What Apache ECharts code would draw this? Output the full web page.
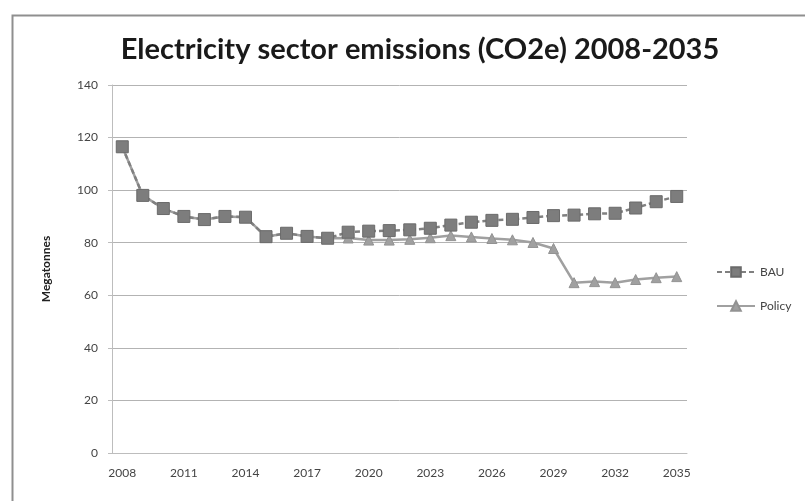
<!DOCTYPE html>
<html>
<head>
<meta charset="utf-8">
<script src="https://cdn.jsdelivr.net/npm/echarts@6/dist/echarts.min.js"></script>
<style>
  html, body { margin: 0; padding: 0; background: #ffffff; }
  #chart { width: 805px; height: 501px; }
</style>
</head>
<body>
<div id="chart"></div>
<script>
// Years on the category axis
const years = [];
for (let y = 2008; y <= 2035; y++) years.push(String(y));

// Business-as-usual emissions, megatonnes CO2e
const bau = [116.5, 98, 93, 90, 88.8, 90, 89.7, 82.3, 83.6, 82.4, 81.7,
             84, 84.4, 84.6, 84.9, 85.5, 86.7, 87.8, 88.5, 88.9, 89.6,
             90.3, 90.5, 91, 91.2, 93.2, 95.6, 97.6];

// Policy scenario emissions, megatonnes CO2e
const policy = [116.5, 98, 93, 90, 88.8, 90, 89.7, 82.3, 83.6, 82.4, 81.7,
                81.8, 81, 81, 81.3, 81.9, 82.7, 82.2, 81.6, 81.1, 80.1,
                77.8, 64.8, 65.2, 64.8, 66, 66.7, 67.1];

const yTicks = [0, 20, 40, 60, 80, 100, 120, 140];

const chart = echarts.init(document.getElementById('chart'));

chart.setOption({
  backgroundColor: '#ffffff',
  animation: false,
  textStyle: { fontFamily: 'Lato, "Open Sans", sans-serif' },
  title: {
    text: 'Electricity sector emissions (CO2e) 2008-2035',
    left: 415,
    textAlign: 'center',
    top: 30,
    textStyle: {
      fontFamily: 'Lato, "Open Sans", sans-serif',
      fontSize: 29,
      fontWeight: 'bold',
      color: '#1a1a1a'
    }
  },
  graphic: [{
    type: 'rect',
    left: 10,
    top: 13,
    shape: { width: 820, height: 520 },
    style: { fill: 'none', stroke: '#8f8f8f', lineWidth: 2 },
    silent: true,
    z: -1
  }],
  legend: {
    orient: 'vertical',
    left: 711,
    top: 261,
    itemGap: 22,
    itemWidth: 38,
    itemHeight: 12,
    textStyle: { fontSize: 12, color: '#444', fontFamily: 'Lato, sans-serif' },
    data: ['BAU', 'Policy']
  },
  grid: { left: 112, right: 118, top: 85, bottom: 48 },
  xAxis: {
    type: 'category',
    data: years,
    boundaryGap: true,
    axisLine: { lineStyle: { color: '#bdbdbd', width: 1 } },
    axisTick: { show: false },
    axisLabel: {
      interval: 2,
      fontSize: 12,
      color: '#444',
      margin: 14
    }
  },
  yAxis: {
    type: 'value',
    min: yTicks[0],
    max: yTicks[yTicks.length - 1],
    interval: 20,
    name: 'Megatonnes',
    nameLocation: 'middle',
    nameGap: 60,
    nameRotate: 90,
    nameTextStyle: { fontSize: 12, fontWeight: 'bold', color: '#222' },
    axisLine: { show: true, lineStyle: { color: '#bdbdbd' } },
    axisTick: { show: true, length: 4, lineStyle: { color: '#bdbdbd' } },
    axisLabel: { fontSize: 12, color: '#444', margin: 14 },
    splitLine: { lineStyle: { color: '#b3b3b3', width: 1 } }
  },
  series: [
    {
      name: 'Policy',
      type: 'line',
      data: policy,
      symbol: 'triangle',
      symbolSize: 10,
      z: 2,
      itemStyle: { color: '#a0a0a0', borderColor: '#929292', borderWidth: 1 },
      lineStyle: { color: '#a0a0a0', width: 2.5 }
    },
    {
      name: 'BAU',
      type: 'line',
      data: bau,
      symbol: 'rect',
      symbolSize: 12,
      z: 3,
      itemStyle: { color: '#7d7d7d', borderColor: '#6a6a6a', borderWidth: 1 },
      lineStyle: { color: '#808080', width: 2.5, type: [5, 3] }
    }
  ]
});
</script>
</body>
</html>
